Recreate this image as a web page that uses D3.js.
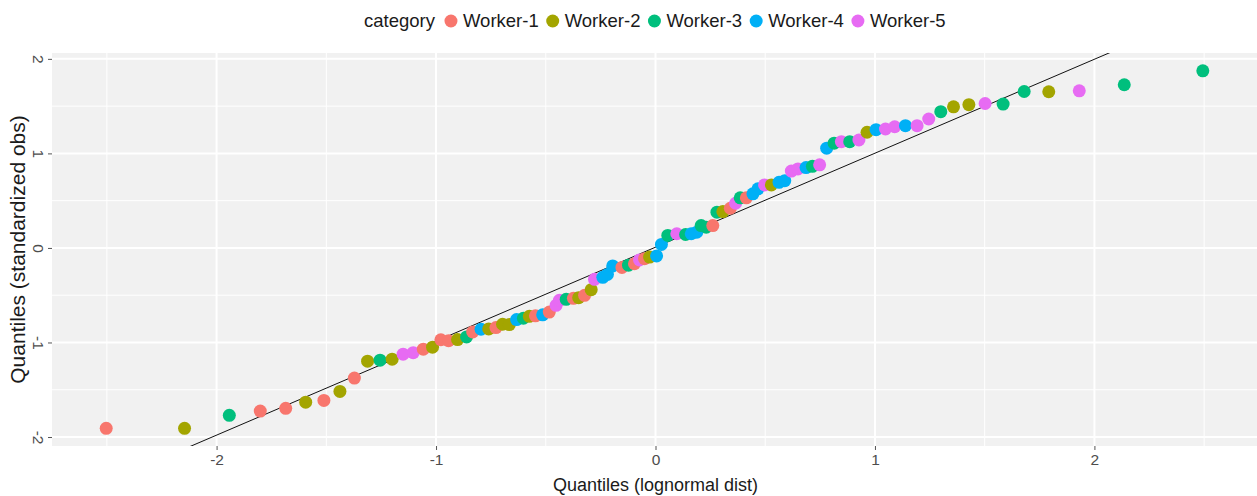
<!DOCTYPE html>
<html>
<head>
<meta charset="utf-8">
<script src="https://cdn.jsdelivr.net/npm/d3@7"></script>
<style>
  html, body { margin: 0; padding: 0; background: #ffffff; }
  svg { display: block; font-family: "Liberation Sans", Arial, sans-serif; }
</style>
</head>
<body>
<svg id="chart" width="1257" height="496"></svg>
<script>
// Legend categories and their colours
const categories = ["Worker-1", "Worker-2", "Worker-3", "Worker-4", "Worker-5"];
const palette = ["#F8766D", "#A3A500", "#00BF7D", "#00B0F6", "#E76BF3"];

// Theoretical quantiles (x), standardized observations (y), worker index (1..5)
const theoretical = [
  -2.503, -2.146, -1.942, -1.801, -1.685, -1.594, -1.511, -1.438, -1.372, -1.312,
  -1.255, -1.200, -1.150, -1.104, -1.058, -1.016, -0.978, -0.943, -0.902, -0.861,
  -0.833, -0.795, -0.760, -0.727, -0.697, -0.666, -0.633, -0.602, -0.575, -0.547,
  -0.514, -0.484, -0.453, -0.438, -0.407, -0.374, -0.350, -0.323, -0.293, -0.278,
  -0.240, -0.219, -0.195, -0.153, -0.123, -0.096, -0.073, -0.050, -0.027, 0.005,
  0.027, 0.056, 0.097, 0.137, 0.163, 0.188, 0.208, 0.231, 0.261, 0.280,
  0.307, 0.341, 0.365, 0.386, 0.414, 0.444, 0.467, 0.497, 0.528, 0.563,
  0.589, 0.619, 0.649, 0.686, 0.715, 0.748, 0.780, 0.814, 0.847, 0.885,
  0.927, 0.964, 1.005, 1.048, 1.090, 1.139, 1.192, 1.245, 1.300, 1.358,
  1.428, 1.502, 1.584, 1.680, 1.792, 1.931, 2.136, 2.494
];
const observed = [
  -1.908, -1.908, -1.771, -1.726, -1.697, -1.631, -1.613, -1.518, -1.377, -1.198,
  -1.187, -1.177, -1.124, -1.108, -1.071, -1.050, -0.971, -0.982, -0.969, -0.941,
  -0.889, -0.860, -0.857, -0.842, -0.807, -0.811, -0.758, -0.744, -0.723, -0.718,
  -0.708, -0.678, -0.607, -0.554, -0.544, -0.533, -0.526, -0.501, -0.441, -0.332,
  -0.311, -0.280, -0.190, -0.206, -0.182, -0.167, -0.127, -0.114, -0.097, -0.084,
  0.037, 0.132, 0.150, 0.142, 0.150, 0.167, 0.237, 0.220, 0.237, 0.378,
  0.385, 0.420, 0.473, 0.530, 0.530, 0.572, 0.625, 0.667, 0.667, 0.694,
  0.712, 0.813, 0.836, 0.850, 0.863, 0.879, 1.055, 1.108, 1.124, 1.124,
  1.142, 1.224, 1.251, 1.258, 1.282, 1.293, 1.293, 1.364, 1.441, 1.493,
  1.515, 1.528, 1.522, 1.655, 1.652, 1.662, 1.726, 1.873
];
const worker = [
  1, 2, 3, 1, 1, 2, 1, 2, 1, 2,
  3, 2, 5, 5, 1, 2, 1, 1, 2, 3,
  1, 4, 2, 1, 2, 2, 4, 3, 2, 1,
  4, 1, 5, 5, 3, 1, 2, 1, 2, 5,
  4, 4, 4, 1, 3, 1, 5, 1, 2, 4,
  4, 3, 5, 3, 4, 4, 3, 3, 1, 3,
  2, 1, 5, 3, 1, 4, 4, 5, 2, 4,
  4, 5, 5, 4, 3, 5, 4, 3, 5, 3,
  5, 2, 4, 5, 5, 4, 5, 5, 3, 2,
  2, 5, 3, 3, 2, 5, 3, 3
];

// Axis ticks
const xTicks = [-2, -1, 0, 1, 2];
const yTicks = [-2, -1, 0, 1, 2];
const xMinor = [-2.5, -1.5, -0.5, 0.5, 1.5, 2.5];
const yMinor = [-1.5, -0.5, 0.5, 1.5];

// Reference line y = slope * x + intercept
const refSlope = 0.994;
const refIntercept = 0.008;

const svg = d3.select("#chart");
const panel = { left: 52, top: 53, right: 1259, bottom: 446 };

const x = d3.scaleLinear().domain([-2.75, 2.75]).range([panel.left, panel.right]);
const y = d3.scaleLinear().domain([-2.095, 2.062]).range([panel.bottom, panel.top]);

// Plain hyphen-minus labels
const tickLabel = d => String(d);

svg.append("defs").append("clipPath").attr("id", "panel-clip")
  .append("rect")
  .attr("x", panel.left).attr("y", panel.top)
  .attr("width", panel.right - panel.left).attr("height", panel.bottom - panel.top);

// Panel background
svg.append("rect")
  .attr("x", panel.left).attr("y", panel.top)
  .attr("width", panel.right - panel.left).attr("height", panel.bottom - panel.top)
  .attr("fill", "#f1f1f1");

const grid = svg.append("g").attr("clip-path", "url(#panel-clip)");
grid.selectAll("line.xminor").data(xMinor).join("line")
  .attr("x1", d => x(d)).attr("x2", d => x(d))
  .attr("y1", panel.top).attr("y2", panel.bottom)
  .attr("stroke", "#ffffff").attr("stroke-width", 1);
grid.selectAll("line.yminor").data(yMinor).join("line")
  .attr("y1", d => y(d)).attr("y2", d => y(d))
  .attr("x1", panel.left).attr("x2", panel.right)
  .attr("stroke", "#ffffff").attr("stroke-width", 1);
grid.selectAll("line.xmajor").data(xTicks).join("line")
  .attr("x1", d => x(d)).attr("x2", d => x(d))
  .attr("y1", panel.top).attr("y2", panel.bottom)
  .attr("stroke", "#ffffff").attr("stroke-width", 2);
grid.selectAll("line.ymajor").data(yTicks).join("line")
  .attr("y1", d => y(d)).attr("y2", d => y(d))
  .attr("x1", panel.left).attr("x2", panel.right)
  .attr("stroke", "#ffffff").attr("stroke-width", 2);

// Axes
const xAxis = svg.append("g")
  .attr("transform", `translate(0,${panel.bottom})`)
  .call(d3.axisBottom(x).tickValues(xTicks).tickFormat(tickLabel).tickSize(4).tickPadding(4));
xAxis.select(".domain").remove();
xAxis.selectAll(".tick line").attr("stroke", "#555");
xAxis.selectAll(".tick text")
  .attr("fill", "#4d4d4d").style("font-size", "15.5px")
  .style("font-family", "'Liberation Sans', Arial, sans-serif");

const yAxis = svg.append("g")
  .attr("transform", `translate(${panel.left},0)`)
  .call(d3.axisLeft(y).tickValues(yTicks).tickFormat(tickLabel).tickSize(4).tickPadding(4));
yAxis.select(".domain").remove();
yAxis.selectAll(".tick line").attr("stroke", "#555");
yAxis.selectAll(".tick text")
  .attr("fill", "#4d4d4d").style("font-size", "15.5px")
  .style("font-family", "'Liberation Sans', Arial, sans-serif")
  .attr("text-anchor", "middle")
  .attr("transform", "translate(-14,0) rotate(90)")
  .attr("x", 0).attr("y", 0).attr("dy", "0.35em");

// Reference line
const xs = x.domain();
grid.append("line")
  .attr("x1", x(xs[0])).attr("y1", y(refSlope * xs[0] + refIntercept))
  .attr("x2", x(xs[1])).attr("y2", y(refSlope * xs[1] + refIntercept))
  .attr("stroke", "#111").attr("stroke-width", 1);

// Points
const points = theoretical.map((t, i) => ({ t, o: observed[i], w: worker[i] }));
grid.selectAll("circle.pt").data(points).join("circle")
  .attr("class", "pt")
  .attr("cx", d => x(d.t)).attr("cy", d => y(d.o))
  .attr("r", 6.5)
  .attr("fill", d => palette[d.w - 1]);

// Axis titles
svg.append("text")
  .attr("x", x(0)).attr("y", 491)
  .attr("text-anchor", "middle")
  .style("font-size", "18px").attr("fill", "#1a1a1a")
  .text("Quantiles (lognormal dist)");
svg.append("text")
  .attr("transform", `translate(25,${(panel.top + panel.bottom) / 2}) rotate(-90)`)
  .attr("text-anchor", "middle")
  .style("font-size", "21px").attr("fill", "#1a1a1a")
  .text("Quantiles (standardized obs)");

// Legend
const legend = svg.append("g").attr("transform", "translate(364,27)");
const title = legend.append("text").attr("x", 0).attr("y", 0)
  .style("font-size", "18.5px").attr("fill", "#1a1a1a").text("category");
let cursor = title.node().getComputedTextLength() + 16;
categories.forEach((c, i) => {
  legend.append("circle").attr("cx", cursor).attr("cy", -6).attr("r", 6.5).attr("fill", palette[i]);
  const t = legend.append("text").attr("x", cursor + 12).attr("y", 0)
    .style("font-size", "18.5px").attr("fill", "#1a1a1a").text(c);
  cursor += 12 + t.node().getComputedTextLength() + 14;
});
</script>
</body>
</html>
